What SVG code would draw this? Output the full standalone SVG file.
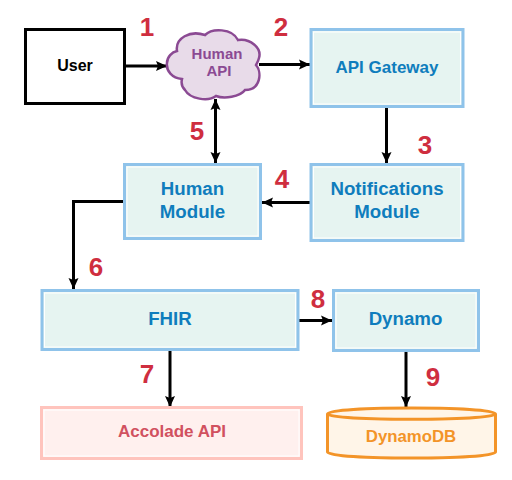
<svg xmlns="http://www.w3.org/2000/svg" width="512" height="480" viewBox="0 0 512 480">
<style>
text{font-family:"Liberation Sans",Arial,sans-serif;font-weight:bold;text-anchor:middle}
.box{fill:#e6f4f1;stroke:#8fc3ea;stroke-width:3}
.in{fill:none;stroke:#fff;stroke-width:1}
.bl{fill:#0f7dbd;font-size:18.700px}
.num{fill:#cf2e3f;font-size:26px}
.c{fill:none;stroke:#000;stroke-width:3}
.c1{marker-end:url(#a)}
</style>
<defs>
<marker id="a" markerUnits="userSpaceOnUse" markerWidth="12" markerHeight="12" refX="11" refY="5" orient="auto-start-reverse" overflow="visible"><path d="M0 0L11 5L0 10L2 5Z" fill="#000"/></marker>
</defs>
<rect width="512" height="480" fill="#fff"/>
<g id="connectors">
<path class="c c1" d="M125 66H167"/>
<path class="c c1" d="M259 64.500H310"/>
<path class="c c1" d="M386.500 107V163"/>
<path class="c c1" d="M310 202.500H262"/>
<path class="c c1" d="M215.500 99V163" style="marker-start:url(#a)"/>
<path class="c c1" d="M123 201.500H73.500V289"/>
<path class="c c1" d="M299 320.500H332"/>
<path class="c c1" d="M170 351V407"/>
<path class="c c1" d="M406 351V407"/>
</g>
<g id="user"><rect x="25.500" y="29.500" width="99" height="74" fill="#fff" stroke="#000" stroke-width="3"/><text x="75" y="71" font-size="16" fill="#000">User</text></g>
<g id="human-api"><path d="M177 51C175 38 190 30 205 35C212 28 232 28 238 40C250 38 262 48 259 58C258 62 257 63 256 65C262 72 261 90 245 90C240 97 224 99 216 96C208 102 190 99 185 90C182 87 181 83 182 79C172 78 166 71 167 63C167 57 172 52 177 51Z" fill="#e8dbe9" stroke="#8b4a93" stroke-width="2.500"/><text x="217" y="59" font-size="15" fill="#8b4a93">Human</text><text x="219" y="76" font-size="15" fill="#8b4a93">API</text></g>
<g id="api-gateway"><rect class="box" x="311" y="29.500" width="152" height="77"/><rect class="in" x="313.500" y="32" width="147" height="72"/><text class="bl" x="387" y="73" style="font-size:17px">API Gateway</text></g>
<g id="notifications-module"><rect class="box" x="311" y="164.500" width="152" height="76"/><rect class="in" x="313.500" y="167" width="147" height="71"/><text class="bl" x="387" y="195">Notifications</text><text class="bl" x="387" y="217.500">Module</text></g>
<g id="human-module"><rect class="box" x="124.500" y="164.500" width="136" height="74"/><rect class="in" x="127" y="167" width="131" height="69"/><text class="bl" x="192.500" y="195">Human</text><text class="bl" x="192.500" y="217.500">Module</text></g>
<g id="fhir"><rect class="box" x="42" y="290.500" width="256" height="59"/><rect class="in" x="44.500" y="293" width="251" height="54"/><text class="bl" x="170" y="325">FHIR</text></g>
<g id="dynamo"><rect class="box" x="333.500" y="290.500" width="145" height="60"/><rect class="in" x="336" y="293" width="140" height="55"/><text class="bl" x="405.500" y="325">Dynamo</text></g>
<g id="accolade-api"><rect x="41.500" y="407.500" width="260" height="51" fill="#fff0ee" stroke="#ffc4bd" stroke-width="3"/><rect class="in" x="44" y="410" width="255" height="46"/><text x="172" y="437" font-size="17" fill="#d1515f">Accolade API</text></g>
<g id="dynamodb"><path d="M327.500 414C327.500 406 495.500 406 495.500 414V452C495.500 460 327.500 460 327.500 452Z" fill="#fff5e8" stroke="#f39428" stroke-width="3"/><path d="M327.500 414C327.500 421 495.500 421 495.500 414" fill="none" stroke="#f39428" stroke-width="3"/><text x="411" y="442" font-size="16.800" fill="#f39428">DynamoDB</text></g>
<g id="labels">
<text class="num" x="147" y="36">1</text><text class="num" x="281" y="36">2</text><text class="num" x="425" y="154">3</text><text class="num" x="282" y="188">4</text><text class="num" x="197" y="140">5</text><text class="num" x="96" y="276">6</text><text class="num" x="147" y="383">7</text><text class="num" x="318" y="308">8</text><text class="num" x="433" y="386">9</text>
</g>
</svg>
